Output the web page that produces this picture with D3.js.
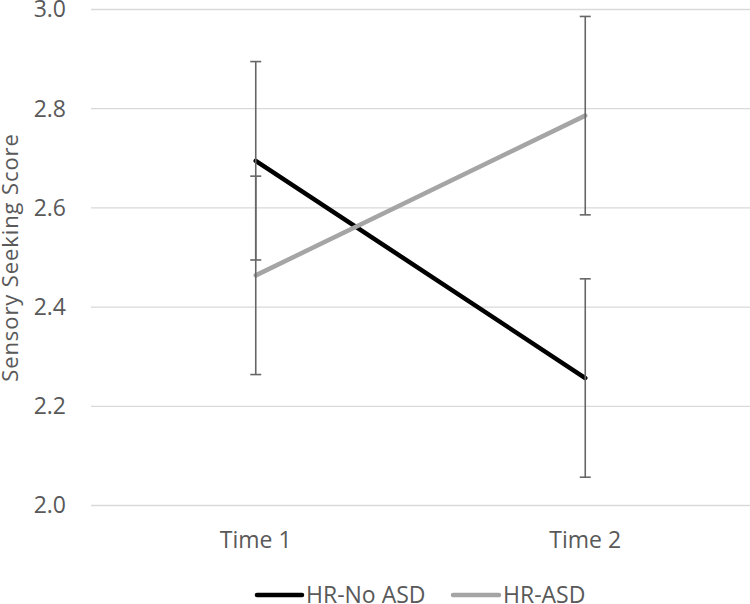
<!DOCTYPE html>
<html>
<head>
<meta charset="utf-8">
<script src="https://cdn.jsdelivr.net/npm/d3@7"></script>
<style>
  html, body { margin: 0; padding: 0; background: #ffffff; }
  svg { display: block; }
  text { font-family: "Open Sans", "Liberation Sans", sans-serif; fill: #595959; }
</style>
</head>
<body>
<svg id="chart" width="750" height="604"></svg>
<script>
const categories = ["Time 1", "Time 2"];
const seriesNames = ["HR-No ASD", "HR-ASD"];
const hrNoAsd = [2.695, 2.257];
const hrNoAsdErr = [0.2, 0.2];
const hrAsd = [2.464, 2.786];
const hrAsdErr = [0.2, 0.2];
const yTicks = [2.0, 2.2, 2.4, 2.6, 2.8, 3.0];

const series = [
  { name: seriesNames[0], values: hrNoAsd, errs: hrNoAsdErr, color: "#000000" },
  { name: seriesNames[1], values: hrAsd, errs: hrAsdErr, color: "#a5a5a5" }
];

const svg = d3.select("#chart");
const plotLeft = 91, plotRight = 750, plotTop = 9.5, plotBottom = 505.5;

const x = d3.scaleBand().domain(categories).range([plotLeft, plotRight]);
const y = d3.scaleLinear().domain([2, 3]).range([plotBottom, plotTop]);
const cx = c => x(c) + x.bandwidth() / 2;

// gridlines
svg.append("g").selectAll("line").data(yTicks).join("line")
  .attr("x1", plotLeft).attr("x2", plotRight)
  .attr("y1", d => y(d)).attr("y2", d => y(d))
  .attr("stroke", "#d9d9d9").attr("stroke-width", 1.3);

// y axis labels
const yAxis = svg.append("g").attr("transform", `translate(${plotLeft},0)`)
  .call(d3.axisLeft(y).tickValues(yTicks).tickFormat(d3.format(".1f")).tickSize(0).tickPadding(25));
yAxis.select(".domain").remove();
yAxis.selectAll("text").style("font-size", "23px").attr("fill", "#595959")
  .style("font-family", '"Open Sans", sans-serif');

// x axis labels
const xAxis = svg.append("g").attr("transform", `translate(0,${plotBottom})`)
  .call(d3.axisBottom(x).tickSize(0));
xAxis.select(".domain").remove();
xAxis.selectAll("text").style("font-size", "23px").attr("fill", "#595959")
  .style("font-family", '"Open Sans", sans-serif')
  .attr("y", 540 - plotBottom).attr("dy", "0.35em");

// y title
svg.append("text")
  .attr("transform", `translate(18,${(plotTop + plotBottom) / 2}) rotate(-90)`)
  .attr("text-anchor", "middle")
  .style("font-size", "22px")
  .style("letter-spacing", "0.9px")
  .text("Sensory Seeking Score");

// lines
const line = d3.line().x((d, i) => cx(categories[i])).y(d => y(d));
svg.append("g").selectAll("path").data(series).join("path")
  .attr("d", s => line(s.values))
  .attr("fill", "none")
  .attr("stroke", s => s.color)
  .attr("stroke-width", 4.5)
  .attr("stroke-linecap", "round");

// error bars
const eb = svg.append("g");
series.forEach(s => {
  s.values.forEach((v, i) => {
    const xc = cx(categories[i]);
    const lo = y(v - s.errs[i]), hi = y(v + s.errs[i]);
    eb.append("line").attr("x1", xc).attr("x2", xc).attr("y1", lo).attr("y2", hi)
      .attr("stroke", "#666666").attr("stroke-width", 1.6);
    [lo, hi].forEach(yy => {
      eb.append("line").attr("x1", xc - 5.5).attr("x2", xc + 5.5).attr("y1", yy).attr("y2", yy)
        .attr("stroke", "#666666").attr("stroke-width", 1.6);
    });
  });
});

// legend
const legendY = 595;
const legendItems = [
  { s: series[0], x0: 257, x1: 302, tx: 306 },
  { s: series[1], x0: 453, x1: 499, tx: 503 }
];
const lg = svg.append("g");
legendItems.forEach(li => {
  lg.append("line").attr("x1", li.x0).attr("x2", li.x1).attr("y1", legendY).attr("y2", legendY)
    .attr("stroke", li.s.color).attr("stroke-width", 4.5).attr("stroke-linecap", "round");
  lg.append("text").attr("x", li.tx).attr("y", legendY).attr("dy", "0.35em")
    .style("font-size", "23px").text(li.s.name);
});
</script>
</body>
</html>
